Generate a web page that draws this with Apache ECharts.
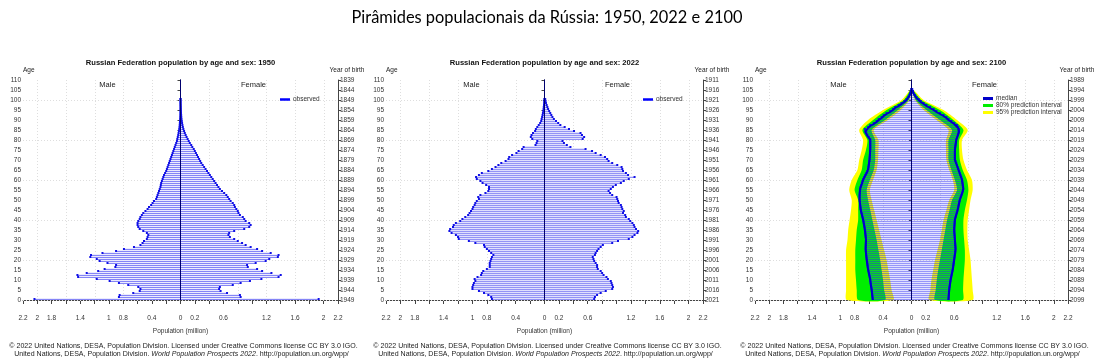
<!DOCTYPE html>
<html><head><meta charset="utf-8">
<script src="https://cdn.jsdelivr.net/npm/echarts@6/dist/echarts.min.js"></script>
<style>html,body{margin:0;padding:0;background:#fff}#c{width:1095px;height:363px}</style>
</head><body><div id="c"></div>
<script>
// ---------------- DATA (index = age in years) ----------------
const mainTitle = 'Pirâmides populacionais da Rússia: 1950, 2022 e 2100';
const panelYears = [1950, 2022, 2100];
const panelTitles = [
  'Russian Federation population by age and sex: 1950',
  'Russian Federation population by age and sex: 2022',
  'Russian Federation population by age and sex: 2100'
];
const xLabelsLeft = [2.2, 2, 1.8, 1.4, 1, 0.8, 0.4, 0];
const xLabelsRight = [0.2, 0.6, 1.2, 1.6, 2, 2.2];
const gridX = [-2, -1.6, -1.2, -0.8, -0.4, 0.4, 0.8, 1.2, 1.6, 2];
const gridAges = [0, 20, 40, 60, 80, 100];

const male1950 = [2.04,0.86,0.85,0.66,0.57,0.56,0.59,0.73,0.86,0.99,
 1.17,1.43,1.44,1.31,1.15,1.06,0.91,0.90,1.02,1.13,
 1.17,1.26,1.25,1.09,0.90,0.79,0.65,0.56,0.53,0.51,
 0.47,0.46,0.45,0.47,0.52,0.57,0.59,0.60,0.60,0.59,
 0.57,0.56,0.54,0.52,0.49,0.46,0.44,0.41,0.39,0.37,
 0.34,0.33,0.32,0.31,0.30,0.29,0.28,0.275,0.27,0.26,
 0.25,0.24,0.23,0.215,0.20,0.19,0.18,0.17,0.16,0.15,
 0.14,0.13,0.12,0.11,0.10,0.09,0.08,0.07,0.06,0.05,
 0.045,0.038,0.032,0.027,0.022,0.018,0.014,0.011,0.009,0.007,
 0.005,0.004,0.003,0.0025,0.002,0.0015,0.001,0.001,0.0008,0.0005,0.0003];
const female1950 = [1.93,0.84,0.83,0.65,0.56,0.54,0.55,0.73,0.84,0.97,
 1.13,1.37,1.40,1.27,1.14,1.07,0.94,0.93,1.05,1.19,
 1.24,1.36,1.37,1.26,1.14,1.07,0.98,0.91,0.86,0.80,
 0.75,0.69,0.67,0.68,0.75,0.89,0.96,0.98,0.96,0.91,
 0.89,0.87,0.83,0.81,0.80,0.78,0.76,0.75,0.73,0.70,
 0.68,0.66,0.64,0.61,0.58,0.55,0.53,0.51,0.49,0.47,
 0.45,0.43,0.41,0.39,0.37,0.35,0.33,0.31,0.29,0.275,
 0.26,0.245,0.23,0.215,0.20,0.185,0.165,0.15,0.13,0.115,
 0.10,0.085,0.072,0.06,0.05,0.04,0.033,0.027,0.022,0.018,
 0.014,0.011,0.009,0.007,0.006,0.005,0.004,0.003,0.002,0.0015,0.001];

const male2022 = [0.73,0.74,0.78,0.84,0.91,1.00,1.00,0.99,0.98,0.96,
 0.97,0.93,0.88,0.87,0.85,0.80,0.76,0.76,0.76,0.75,
 0.74,0.73,0.71,0.74,0.77,0.80,0.83,0.84,0.96,1.05,
 1.19,1.20,1.23,1.29,1.32,1.31,1.27,1.26,1.23,1.17,
 1.14,1.10,1.06,1.04,1.02,1.00,0.99,0.97,0.96,0.94,
 0.91,0.92,0.89,0.82,0.78,0.77,0.77,0.81,0.86,0.89,
 0.94,0.95,0.91,0.87,0.78,0.73,0.68,0.64,0.60,0.54,
 0.50,0.49,0.45,0.39,0.36,0.31,0.29,0.125,0.11,0.10,
 0.17,0.19,0.18,0.16,0.13,0.12,0.10,0.08,0.06,0.046,
 0.04,0.033,0.027,0.022,0.017,0.013,0.010,0.007,0.005,0.004,0.003];
const female2022 = [0.69,0.70,0.73,0.78,0.85,0.94,0.95,0.94,0.93,0.92,
 0.88,0.86,0.82,0.80,0.78,0.74,0.73,0.73,0.71,0.69,
 0.68,0.67,0.70,0.71,0.73,0.75,0.78,0.81,0.94,1.02,
 1.17,1.22,1.25,1.29,1.30,1.27,1.25,1.24,1.22,1.19,
 1.17,1.13,1.12,1.09,1.10,1.08,1.07,1.06,1.03,1.02,
 1.01,1.00,0.94,0.91,0.89,0.92,0.95,0.99,1.06,1.10,
 1.17,1.25,1.16,1.13,1.09,1.08,1.07,1.01,0.94,0.89,
 0.87,0.84,0.78,0.71,0.66,0.57,0.36,0.31,0.27,0.25,
 0.53,0.55,0.52,0.50,0.41,0.34,0.28,0.22,0.19,0.16,
 0.13,0.11,0.095,0.08,0.065,0.05,0.04,0.03,0.02,0.015,0.01];

// 2100 median (ages 0..105)
const male2100 = [0.545,0.548,0.551,0.554,0.557,0.56,0.565,0.57,0.574,0.578,
 0.58,0.586,0.592,0.598,0.604,0.61,0.614,0.618,0.622,0.626,
 0.63,0.633,0.636,0.639,0.642,0.645,0.644,0.643,0.642,0.641,
 0.64,0.643,0.646,0.649,0.652,0.655,0.66,0.665,0.67,0.675,
 0.68,0.687,0.694,0.701,0.708,0.715,0.718,0.721,0.724,0.727,
 0.73,0.73,0.73,0.728,0.726,0.725,0.718,0.708,0.698,0.69,
 0.68,0.667,0.652,0.637,0.622,0.61,0.606,0.602,0.598,0.594,
 0.59,0.588,0.586,0.584,0.582,0.58,0.58,0.58,0.58,0.58,
 0.58,0.60,0.62,0.635,0.65,0.655,0.61,0.58,0.53,0.49,
 0.46,0.42,0.39,0.35,0.30,0.26,0.23,0.18,0.14,0.10,
 0.07,0.045,0.03,0.018,0.01,0.005];
const female2100 = [0.52,0.522,0.524,0.526,0.528,0.53,0.534,0.538,0.542,0.546,
 0.55,0.556,0.562,0.568,0.574,0.58,0.584,0.588,0.592,0.596,
 0.60,0.604,0.608,0.612,0.616,0.62,0.618,0.616,0.614,0.612,
 0.61,0.608,0.606,0.604,0.602,0.60,0.602,0.604,0.606,0.608,
 0.61,0.618,0.626,0.634,0.642,0.65,0.656,0.662,0.668,0.674,
 0.68,0.69,0.70,0.71,0.72,0.73,0.726,0.722,0.718,0.714,
 0.71,0.70,0.69,0.68,0.67,0.66,0.65,0.64,0.63,0.62,
 0.61,0.61,0.61,0.61,0.61,0.61,0.614,0.618,0.622,0.626,
 0.63,0.64,0.65,0.66,0.667,0.67,0.655,0.64,0.60,0.56,
 0.52,0.49,0.45,0.40,0.35,0.31,0.26,0.21,0.17,0.13,
 0.10,0.07,0.05,0.03,0.02,0.01];

// 2100 prediction intervals, read every 5 years of age
const bandAges = [0,5,10,15,20,25,30,35,40,45,50,55,60,65,70,75,80,85,90,95,100,105];
const maleHi95 = [0.91,0.92,0.92,0.92,0.92,0.92,0.90,0.89,0.87,0.85,0.84,0.875,0.84,0.76,0.735,0.70,0.68,0.735,0.61,0.40,0.14,0.02];
const maleHi80 = [0.75,0.77,0.78,0.79,0.79,0.79,0.78,0.77,0.75,0.75,0.75,0.80,0.76,0.70,0.68,0.64,0.62,0.69,0.54,0.35,0.11,0.015];
const maleLo80 = [0.37,0.385,0.40,0.42,0.44,0.465,0.49,0.52,0.55,0.58,0.61,0.63,0.585,0.53,0.51,0.51,0.51,0.56,0.37,0.19,0.04,0.003];
const maleLo95 = [0.255,0.28,0.30,0.325,0.35,0.385,0.42,0.455,0.49,0.525,0.56,0.585,0.54,0.49,0.47,0.465,0.465,0.53,0.33,0.15,0.03,0.002];
const femaleHi95 = [0.86,0.86,0.85,0.84,0.83,0.81,0.79,0.785,0.79,0.81,0.83,0.86,0.85,0.78,0.73,0.71,0.71,0.79,0.64,0.45,0.17,0.03];
const femaleHi80 = [0.72,0.725,0.73,0.74,0.75,0.75,0.74,0.73,0.73,0.75,0.78,0.80,0.78,0.72,0.68,0.67,0.67,0.73,0.59,0.40,0.14,0.02];
const femaleLo80 = [0.33,0.34,0.355,0.375,0.40,0.425,0.45,0.475,0.50,0.535,0.57,0.64,0.61,0.56,0.52,0.52,0.52,0.57,0.40,0.21,0.06,0.005];
const femaleLo95 = [0.25,0.265,0.28,0.305,0.33,0.365,0.40,0.425,0.45,0.49,0.53,0.60,0.58,0.53,0.49,0.485,0.485,0.52,0.35,0.17,0.05,0.004];

const copyright1 = '© 2022 United Nations, DESA, Population Division. Licensed under Creative Commons license CC BY 3.0 IGO.';
const copyright2a = 'United Nations, DESA, Population Division. ';
const copyright2b = 'World Population Prospects 2022';
const copyright2c = '. http://population.un.org/wpp/';

// ---------------- LAYOUT / STYLE ----------------
const FONT = 'Liberation Sans, Arial, sans-serif';
const panels = [
  {left: 23, width: 315},
  {left: 386, width: 317},
  {left: 755, width: 313}
];
const GTOP = 80, GH = 220;
const DOT = '#1010e6';
const barStyles = [
  {back: '#ebebfe', line: '#8585f6'},
  {back: '#e0e0fd', line: '#9494f5'},
  {back: 'rgba(60,60,255,0.16)', line: 'rgba(40,40,240,0.4)'}
];

const chart = echarts.init(document.getElementById('c'), null, {renderer: 'canvas'});

const grids = [], xAxes = [], yAxes = [], series = [], graphics = [], legends = [];

function fmtX(v) {
  const r = Math.round(v * 10) / 10;
  const a = Math.abs(r);
  if (r === 0) return '0';
  if (r < 0) return xLabelsLeft.indexOf(a) >= 0 ? String(a) : '';
  return xLabelsRight.indexOf(a) >= 0 ? String(a) : '';
}

function makeBarRender(st) {
  return function (params, api) {
    const age = api.value(0), m = api.value(1), f = api.value(2);
    const pL = api.coord([-m, age]), pR = api.coord([f, age]);
    const y = Math.round(pL[1]) - 1;
    return {
      type: 'group',
      children: [
        {type: 'rect', shape: {x: pL[0], y: y - 1, width: pR[0] - pL[0], height: 2}, style: {fill: st.back}},
        {type: 'rect', shape: {x: pL[0], y: y, width: pR[0] - pL[0], height: 1}, style: {fill: st.line}},
        {type: 'rect', shape: {x: pL[0] - 1, y: y - 1, width: 2, height: 2}, style: {fill: DOT}},
        {type: 'rect', shape: {x: pR[0] - 1, y: y - 1, width: 2, height: 2}, style: {fill: DOT}}
      ]
    };
  };
}

function bandRender(outer, inner, sign, color) {
  return function (params, api) {
    const pts = [];
    for (let k = 0; k < bandAges.length; k++) pts.push(api.coord([sign * outer[k], bandAges[k]]));
    for (let k = bandAges.length - 1; k >= 0; k--) pts.push(api.coord([sign * inner[k], bandAges[k]]));
    return {type: 'polygon', shape: {points: pts, smooth: 0.25}, style: {fill: color}};
  };
}

panels.forEach((p, i) => {
  const cx = p.left + p.width / 2;
  grids.push({left: p.left, top: GTOP, width: p.width, height: GH, containLabel: false});
  xAxes.push({
    type: 'value', gridIndex: i, min: -2.2, max: 2.2, interval: 0.2, offset: 12,
    axisLine: {show: true, lineStyle: {color: '#444', width: 1}},
    axisTick: {show: true, length: 4, lineStyle: {color: '#444'}},
    axisLabel: {show: true, formatter: fmtX, fontSize: 6.5, fontFamily: FONT, color: '#333', margin: 3, interval: 0},
    splitLine: {show: false},
    name: 'Population (million)', nameLocation: 'middle', nameGap: 16,
    nameTextStyle: {fontSize: 6.5, fontFamily: FONT, color: '#333'}
  });
  yAxes.push({
    type: 'value', gridIndex: i, position: 'left', min: 0, max: 110, interval: 5,
    axisLine: {show: true, lineStyle: {color: '#444'}},
    axisTick: {show: true, length: 3, lineStyle: {color: '#444'}},
    axisLabel: {fontSize: 6.5, fontFamily: FONT, color: '#333', margin: 2},
    splitLine: {show: false}
  });
  yAxes.push({
    type: 'value', gridIndex: i, position: 'right', min: 0, max: 110, interval: 5,
    axisLine: {show: true, lineStyle: {color: '#444'}},
    axisTick: {show: true, length: 3, lineStyle: {color: '#444'}},
    axisLabel: {fontSize: 6.5, fontFamily: FONT, color: '#333', margin: 2,
      formatter: (v) => String(panelYears[i] - 1 - v)},
    splitLine: {show: false}
  });
  const xi = i, yi = i * 2;
  series.push({
    type: 'custom', name: 'gridV' + i, xAxisIndex: xi, yAxisIndex: yi, silent: true, z: 1,
    data: gridX.map(v => [v]),
    renderItem: (params, api) => {
      const a = api.coord([api.value(0), 0]), b = api.coord([api.value(0), 110]);
      return {type: 'line', shape: {x1: Math.round(a[0]) + 0.5, y1: a[1], x2: Math.round(b[0]) + 0.5, y2: b[1]},
        style: {stroke: '#dedede', lineWidth: 1, lineDash: [1, 2]}};
    }
  });
  series.push({
    type: 'custom', name: 'gridH' + i, xAxisIndex: xi, yAxisIndex: yi, silent: true, z: 1,
    data: gridAges.map(v => [0, v]),
    renderItem: (params, api) => {
      const a = api.coord([-2.2, api.value(1)]), b = api.coord([2.2, api.value(1)]);
      return {type: 'line', shape: {x1: a[0], y1: Math.round(a[1]) + 0.5, x2: b[0], y2: Math.round(b[1]) + 0.5},
        style: {stroke: '#dedede', lineWidth: 1, lineDash: [1, 2]}};
    }
  });

  let M, F;
  if (i === 0) { M = male1950; F = female1950; }
  else if (i === 1) { M = male2022; F = female2022; }
  else { M = male2100; F = female2100; }

  if (i === 2) {
    series.push({type: 'custom', name: '95% prediction interval', xAxisIndex: xi, yAxisIndex: yi, z: 2,
      itemStyle: {color: '#ffff00'}, data: [[0, 0]], renderItem: bandRender(maleHi95, maleLo95, -1, '#ffff00')});
    series.push({type: 'custom', name: '95% prediction interval', xAxisIndex: xi, yAxisIndex: yi, z: 2,
      itemStyle: {color: '#ffff00'}, data: [[0, 0]], renderItem: bandRender(femaleHi95, femaleLo95, 1, '#ffff00')});
    series.push({type: 'custom', name: '80% prediction interval', xAxisIndex: xi, yAxisIndex: yi, z: 3,
      itemStyle: {color: '#00ee00'}, data: [[0, 0]], renderItem: bandRender(maleHi80, maleLo80, -1, '#00ee00')});
    series.push({type: 'custom', name: '80% prediction interval', xAxisIndex: xi, yAxisIndex: yi, z: 3,
      itemStyle: {color: '#00ee00'}, data: [[0, 0]], renderItem: bandRender(femaleHi80, femaleLo80, 1, '#00ee00')});
  }

  series.push({
    type: 'custom', name: i === 2 ? 'bars2100' : 'observed', xAxisIndex: xi, yAxisIndex: yi, z: 4,
    itemStyle: {color: '#0000ff'},
    data: M.map((m, a) => [a, m, F[a]]),
    renderItem: makeBarRender(barStyles[i])
  });

  if (i === 2) {
    series.push({type: 'line', name: 'median', xAxisIndex: xi, yAxisIndex: yi, z: 5,
      showSymbol: false, symbol: 'none', color: '#0000c8',
      lineStyle: {color: '#0000c8', width: 2}, data: M.map((m, a) => [-m, a])});
    series.push({type: 'line', name: 'median', xAxisIndex: xi, yAxisIndex: yi, z: 5,
      showSymbol: false, symbol: 'none', color: '#0000c8',
      lineStyle: {color: '#0000c8', width: 2}, data: F.map((f, a) => [f, a])});
  }
  series.push({type: 'line', name: 'centre' + i, xAxisIndex: xi, yAxisIndex: yi, z: 6,
    showSymbol: false, symbol: 'none', silent: true,
    lineStyle: {color: '#00006e', width: 1}, data: [[0, 0], [0, 110.5]]});

  const T = (x, y, text, size, extra) => graphics.push(Object.assign({type: 'text', x: x, y: y,
    style: Object.assign({text: text, fontSize: size, fontFamily: FONT, fill: '#222', align: 'center', verticalAlign: 'middle'}, extra || {})}));
  T(cx, 63, panelTitles[i], 7.6, {fontWeight: 'bold', fill: '#111'});
  T(p.left, 70, 'Age', 6.5, {align: 'left'});
  T(p.left + p.width + 9, 70, 'Year of birth', 6.5);
  T(cx - 73, 85, 'Male', 7.5);
  T(cx + 73, 85, 'Female', 7.5);
  T(cx + 3, 346, copyright1, 7.05);
  graphics.push({type: 'text', x: cx + 1, y: 354, style: {
    text: '{n|' + copyright2a + '}{it|' + copyright2b + '}{n|' + copyright2c + '}',
    align: 'center', verticalAlign: 'middle', fill: '#222', fontSize: 7.05, fontFamily: FONT,
    rich: {n: {fontSize: 7.05, fontFamily: FONT, fill: '#222'}, it: {fontSize: 7.05, fontFamily: FONT, fontStyle: 'italic', fill: '#222'}}
  }});

  if (i < 2) {
    legends.push({data: ['observed'], left: p.left + 257, top: 96, orient: 'vertical',
      icon: 'rect', itemWidth: 10, itemHeight: 2.5, itemGap: 0, padding: 0, selectedMode: false,
      textStyle: {fontSize: 6.5, fontFamily: FONT, color: '#333', padding: [0, 0, 0, -2]}});
  } else {
    legends.push({data: ['median', '80% prediction interval', '95% prediction interval'], left: p.left + 228, top: 95,
      orient: 'vertical', icon: 'rect', itemWidth: 10, itemHeight: 3, itemGap: 0, padding: 0, selectedMode: false,
      textStyle: {fontSize: 6.5, lineHeight: 6, height: 6, fontFamily: FONT, color: '#333', padding: [0, 0, 0, -2]}});
  }
});

graphics.push({type: 'text', x: 547, y: 18, style: {text: mainTitle, fontSize: 16.4, fontFamily: 'Lato, Carlito, sans-serif',
  fill: '#000', align: 'center', verticalAlign: 'middle'}});

chart.setOption({
  animation: false,
  backgroundColor: '#fff',
  grid: grids, xAxis: xAxes, yAxis: yAxes, series: series, legend: legends, graphic: graphics
});
</script></body></html>
